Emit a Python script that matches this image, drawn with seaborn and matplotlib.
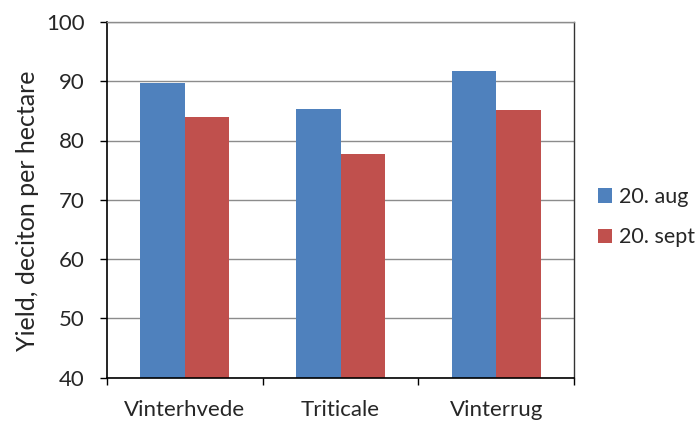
import matplotlib
matplotlib.use("Agg")
import matplotlib.pyplot as plt
from matplotlib.ticker import FixedLocator, NullFormatter
import seaborn as sns
import pandas as pd

crops = ["Vinterhvede", "Triticale", "Vinterrug"]
harvest_dates = ["20. aug", "20. sept"]
yield_aug = [89.7, 85.4, 91.7]
yield_sept = [84.0, 77.7, 85.1]
y_ticks = [40, 50, 60, 70, 80, 90, 100]
y_label = "Yield, deciton per hectare"

colors = ["#4F81BD", "#C0504D"]

df = pd.DataFrame({
    "crop": crops * 2,
    "date": [harvest_dates[0]] * 3 + [harvest_dates[1]] * 3,
    "yield": yield_aug + yield_sept,
})

sns.set_theme(style="white")
plt.rcParams["font.family"] = ["Lato", "DejaVu Sans"]

fig = plt.figure(figsize=(7.0, 4.21), dpi=100)
ax = fig.add_axes([107 / 700, 1 - 377.5 / 421, 467 / 700, 355.5 / 421])

sns.barplot(data=df, x="crop", y="yield", hue="date", order=crops,
            hue_order=harvest_dates, palette=colors, width=0.57, gap=0,
            saturation=1, ax=ax, legend=True, edgecolor="none")

ax.set_ylim(40, 100)
ax.set_xlim(-0.5, 2.5)
ax.set_yticks(y_ticks)
ax.yaxis.grid(True, color="#8C8C8C", linewidth=1.0)
ax.set_axisbelow(True)

ax.set_xlabel("")
ax.set_ylabel(y_label, fontsize=18)
ax.yaxis.set_label_coords(-0.146, 0.468)
ax.tick_params(axis="y", labelsize=16, length=5, width=1, color="black",
               direction="out", pad=11, left=True)
ax.tick_params(axis="x", which="major", labelsize=16, length=0, pad=16)
ax.xaxis.set_minor_locator(FixedLocator([-0.5, 0.5, 1.5, 2.5]))
ax.xaxis.set_minor_formatter(NullFormatter())
ax.tick_params(axis="x", which="minor", length=5, width=1, color="black",
               direction="out", bottom=True)

for side in ["left", "bottom"]:
    ax.spines[side].set_color("black")
    ax.spines[side].set_linewidth(1.2)
ax.spines["right"].set_color("#333333")
ax.spines["right"].set_linewidth(1.0)
ax.spines["top"].set_color("#8C8C8C")
ax.spines["top"].set_linewidth(1.0)

leg = ax.legend(loc="center left", bbox_to_anchor=(1.043, 0.451), frameon=False,
                fontsize=15.5, handlelength=0.65, handleheight=0.65,
                handletextpad=0.3, labelspacing=0.95, borderpad=0.2,
                borderaxespad=0)

fig.savefig("out.png", dpi=100)
